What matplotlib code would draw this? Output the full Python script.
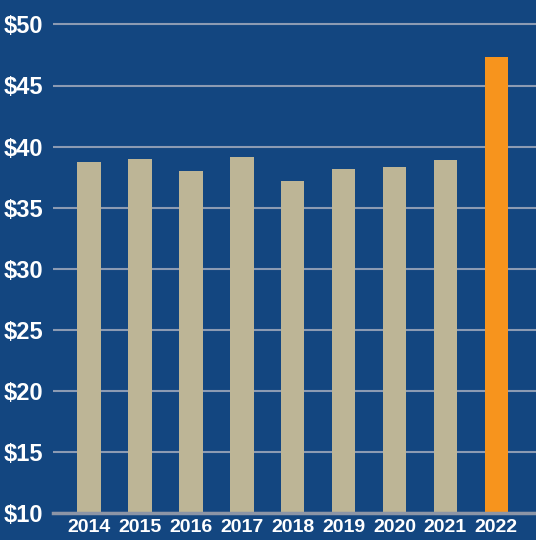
import matplotlib.pyplot as plt

years = ['2014', '2015', '2016', '2017', '2018', '2019', '2020', '2021', '2022']
values = [38.7, 39.0, 38.0, 39.15, 37.15, 38.2, 38.3, 38.9, 47.35]
y_ticks = [10, 15, 20, 25, 30, 35, 40, 45, 50]

bg = '#134680'
beige = '#BDB596'
orange = '#F7941D'
colors = [beige] * (len(years) - 1) + [orange]

plt.rcParams['font.family'] = ['Liberation Sans Narrow', 'Liberation Sans', 'DejaVu Sans']

fig = plt.figure(figsize=(5.36, 5.4), dpi=100, facecolor=bg)
ax = fig.add_axes([53 / 536, 27 / 540, 1 - 53 / 536, 1 - 27 / 540])
ax.set_facecolor(bg)

x = list(range(len(years)))
ax.bar(x, values, width=0.46, color=colors, zorder=3)

ax.set_ylim(10, 52)
ax.set_xlim(-0.71, 8.78)
ax.set_yticks(y_ticks)
ax.set_yticklabels(['$' + str(v) for v in y_ticks])
ax.set_xticks(x)
ax.set_xticklabels(years)

ax.grid(axis='y', color='#8C9BB3', linewidth=1.5, zorder=1)
for side in ['top', 'right', 'left']:
    ax.spines[side].set_visible(False)
ax.spines['bottom'].set_color('#8C95A6')
ax.spines['bottom'].set_linewidth(2.5)
ax.spines['bottom'].set_zorder(4)

ax.tick_params(axis='y', length=0, pad=7, labelsize=17, labelcolor='white')
ax.tick_params(axis='x', length=0, pad=4, labelsize=14, labelcolor='white')
for lab in ax.get_yticklabels() + ax.get_xticklabels():
    lab.set_fontweight('bold')

fig.savefig('out.png', dpi=100, facecolor=bg)
